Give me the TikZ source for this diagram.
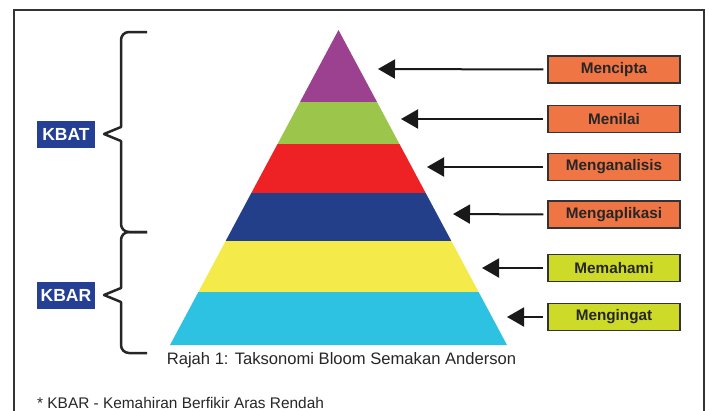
\documentclass[tikz,border=0pt]{standalone}
\usepackage{fontspec}
\setmainfont{Liberation Sans}
\usetikzlibrary{arrows.meta}

\definecolor{ungu}{HTML}{9B4190}
\definecolor{hijau}{HTML}{9CC54C}
\definecolor{merah}{HTML}{EE2124}
\definecolor{biru}{HTML}{243F8A}
\definecolor{kuning}{HTML}{F4EB4A}
\definecolor{sian}{HTML}{2EC2E2}
\definecolor{oren}{HTML}{F07545}
\definecolor{limau}{HTML}{CEDA28}
\definecolor{tajuk}{HTML}{243F93}

\tikzset{
	tahap/.style={draw=black!80, line width=1.5pt, minimum width=132pt, minimum height=27pt, inner sep=0pt, text=black!85, font=\fontsize{15.3}{18}\selectfont\bfseries},
	kba/.style={fill=tajuk, minimum width=58pt, minimum height=27pt, inner sep=0pt, text=white, font=\fontsize{17.5}{20}\selectfont\bfseries},
	panah/.style={-{Triangle[length=17pt,width=19pt]}, line width=2pt, color=black!90, shorten <=4pt},
	kurungan/.style={line width=2.5pt, color=black!85, line join=round}
}

\begin{document}
\begin{tikzpicture}[x=1pt,y=-1pt]
	\useasboundingbox (0,0) rectangle (709,410);
	\draw[line width=2pt, color=black!80] (14,10) rectangle (704,430);

	\begin{scope}
		\clip (338.5,30) -- (507,345) -- (170,345) -- cycle;
		\fill[ungu] (160,25) rectangle (520,102);
		\fill[hijau] (160,102) rectangle (520,144);
		\fill[merah] (160,144) rectangle (520,193);
		\fill[biru] (160,193) rectangle (520,241);
		\fill[kuning] (160,241) rectangle (520,292);
		\fill[sian] (160,292) rectangle (520,346);
	\end{scope}

	\coordinate (t1) at (378,69);
	\coordinate (t2) at (401,119);
	\coordinate (t3) at (427,167);
	\coordinate (t4) at (453,214);
	\coordinate (t5) at (482,268);
	\coordinate (t6) at (507,317);

	\node[tahap, fill=oren] (mencipta) at (614,69.5) {Mencipta};
	\node[tahap, fill=oren] (menilai) at (614,119) {Menilai};
	\node[tahap, fill=oren] (menganalisis) at (614,167) {Menganalisis};
	\node[tahap, fill=oren] (mengaplikasi) at (614,214.5) {Mengaplikasi};
	\node[tahap, fill=limau] (memahami) at (614,268) {Memahami};
	\node[tahap, fill=limau] (mengingat) at (614,317) {Mengingat};

	\draw[panah] (mencipta.west) -- (t1);
	\draw[panah] (menilai.west) -- (t2);
	\draw[panah] (menganalisis.west) -- (t3);
	\draw[panah] (mengaplikasi.west) -- (t4);
	\draw[panah] (memahami.west) -- (t5);
	\draw[panah] (mengingat.west) -- (t6);

	\draw[kurungan] (147,32) -- (129,32) to[out=180,in=90] (121,40) -- (121,127) -- (104,134) -- (121,141) -- (121,224) to[out=-90,in=180] (129,232) -- (147,232);
	\draw[kurungan] (147,232) -- (129,232) to[out=180,in=90] (121,240) -- (121,288) -- (104,295) -- (121,302) -- (121,345) to[out=-90,in=180] (129,353) -- (147,353);

	\node[kba] (kbat) at (66,134) {KBAT};
	\node[kba] (kbar) at (66,295) {KBAR};

	\node[anchor=base, font=\fontsize{16.6}{20}\selectfont, text=black!85] (rajah) at (341.5,364) {Rajah 1: Taksonomi Bloom Semakan Anderson};
	\node[anchor=base west, inner sep=0pt, font=\fontsize{15.4}{18}\selectfont, text=black!85] (nota) at (37,408) {* KBAR - Kemahiran Berfikir Aras Rendah};
\end{tikzpicture}
\end{document}
